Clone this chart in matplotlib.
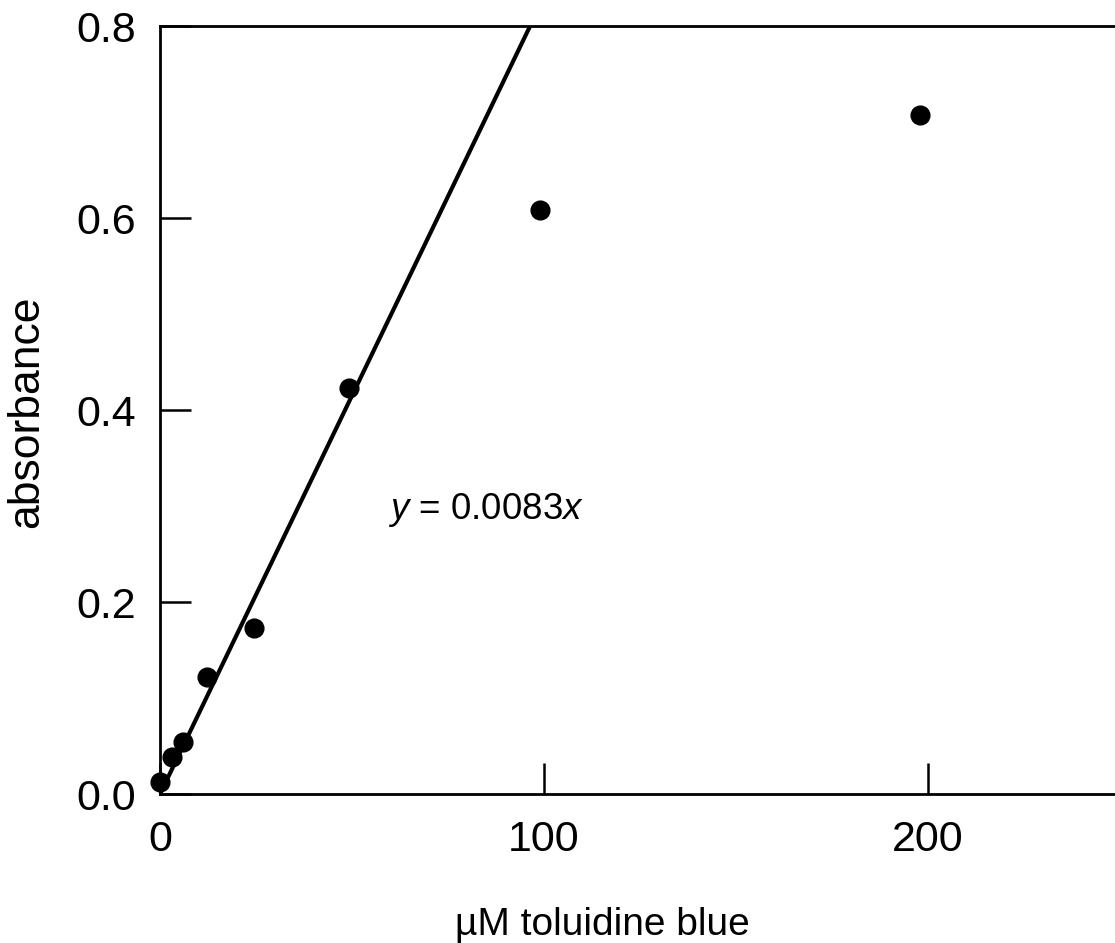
import numpy as np
import matplotlib
matplotlib.use("Agg")
import matplotlib.pyplot as plt

plt.rcParams['font.family'] = ['Liberation Sans', 'DejaVu Sans']
plt.rcParams['mathtext.fontset'] = 'custom'
plt.rcParams['mathtext.rm'] = 'Liberation Sans'
plt.rcParams['mathtext.it'] = 'Liberation Sans:italic'

# datos
conc_uM = [0, 3.1, 6.0, 12.2, 24.5, 49.2, 99, 198]
absorbance = [0.0125, 0.0385, 0.054, 0.122, 0.173, 0.423, 0.608, 0.707]
slope = 0.0083
x_ticks = [0, 100, 200]
y_ticks = [0.0, 0.2, 0.4, 0.6, 0.8]
y_tick_labels = ['0.0', '0.2', '0.4', '0.6', '0.8']

W, H = 1115, 943
fig = plt.figure(figsize=(W / 100, H / 100), dpi=100)
# eixo começa em x=160 px, e vai além da borda direita (como no original)
ax = fig.add_axes([160 / W, (H - 794) / H, 960 / W, 768 / H])

ax.set_xlim(0, 250)
ax.set_ylim(0, 0.8)

# reta de ajuste
x_fit = np.array([0, 0.8 / slope])
ax.plot(x_fit, slope * x_fit, color='black', linewidth=3, solid_capstyle='butt')

ax.plot(conc_uM, absorbance, 'o', color='black', markersize=13.5, clip_on=False)

ax.text(59.4, 0.286, '$y$ = 0.0083$x$', fontsize=26.5, ha='left', va='baseline')

ax.spines['right'].set_visible(False)
for side in ['left', 'bottom', 'top']:
    ax.spines[side].set_linewidth(2)

ax.set_xticks(x_ticks)
ax.set_yticks(y_ticks)
ax.set_yticklabels(y_tick_labels)
ax.tick_params(direction='in', length=22, width=1.8, labelsize=31, pad=17,
               top=False, right=False)
ax.tick_params(axis='x', pad=19)

fig.text(602 / W, (H - 935) / H, 'µM toluidine blue', fontsize=28,
         ha='center', va='baseline')
fig.text(27 / W, (H - 412) / H, 'absorbance', fontsize=32, rotation=90,
         ha='center', va='center')

fig.savefig('out.png', dpi=100)
